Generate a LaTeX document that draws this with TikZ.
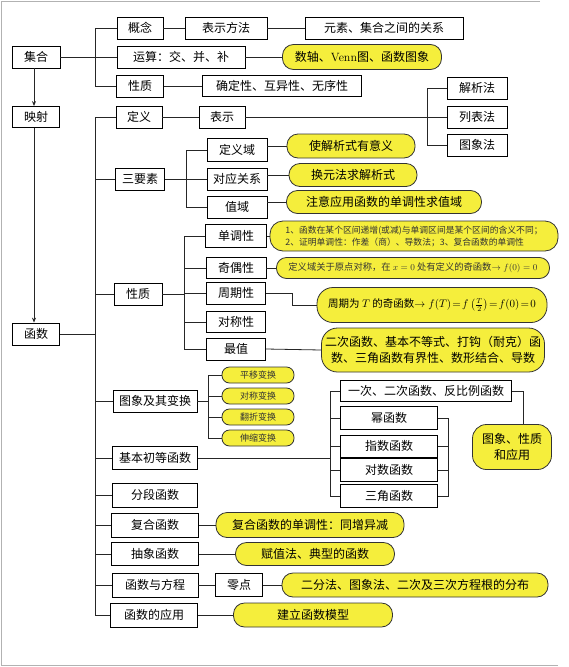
\documentclass[tikz,border=0pt]{standalone}
\usepackage{fontspec}
\newfontfamily\cjk{Noto Sans CJK SC}
\usetikzlibrary{arrows.meta}
\definecolor{yel}{RGB}{245,238,60}
\begin{document}
\begin{tikzpicture}[x=1pt,y=-1pt,
  box/.style={draw=black, fill=white, line width=0.8pt, inner sep=0pt, font=\cjk\fontsize{12}{14}\selectfont},
  oval/.style={draw=black!80, fill=yel, line width=0.8pt, inner sep=0pt, rounded corners=11pt, font=\cjk\fontsize{12}{14}\selectfont},
  small/.style={oval, rounded corners=7.5pt, font=\cjk\fontsize{9}{10}\selectfont, text=black!80},
  link/.style={draw=black!85, line width=0.8pt},
  arr/.style={link, -{Stealth[length=5pt,width=4pt]}}
]
\useasboundingbox (0,0) rectangle (568,667);
\draw[black!30, line width=1pt] (540,1.5) -- (1.5,1.5) -- (1.5,665) -- (558,665);

% ---------- left column
\node[box, minimum width=48pt, minimum height=22pt] (jihe) at (36,57) {集合};
\node[box, minimum width=47pt, minimum height=21pt] (yingshe) at (36,117) {映射};
\node[box, minimum width=47pt, minimum height=22pt] (hanshu) at (36,334) {函数};
\draw[arr] (jihe.south -| 34,0) -- (yingshe.north -| 34,0);
\draw[arr] (yingshe.south -| 34,0) -- (hanshu.north -| 34,0);

% ---------- sets
\node[box, minimum width=46pt, minimum height=22pt] (gainian) at (140,28) {概念};
\node[box, minimum width=82pt, minimum height=22pt] (bsff) at (226,28) {表示方法};
\node[box, minimum width=158pt, minimum height=22pt] (yuansu) at (384,28) {元素、集合之间的关系};
\node[box, minimum width=128pt, minimum height=22pt] (yunsuan) at (181,57) {运算：交、并、补};
\node[oval, minimum width=159pt, minimum height=25pt] (shuzhou) at (362,57) {数轴、{\rmfamily Venn}图、函数图象};
\node[box, minimum width=47pt, minimum height=22pt] (xz1) at (140,86) {性质};
\node[box, minimum width=159pt, minimum height=21pt] (queding) at (282,86) {确定性、互异性、无序性};

\coordinate (bS) at (95,57);
\draw[link] (jihe.east) -- (bS);
\draw[link] (gainian.west) -- (gainian.west -| bS) -- (xz1.west -| bS) -- (xz1.west);
\draw[link] (yunsuan.west) -- (yunsuan.west -| bS);
\draw[link] (gainian.east) -- (bsff.west);
\draw[link] (bsff.east) -- (yuansu.west);
\draw[link] (yunsuan.east) -- (shuzhou.west);
\draw[link] (xz1.east) -- (queding.west);

% ---------- function: definition
\node[box, minimum width=46pt, minimum height=22pt] (dingyi) at (139,117) {定义};
\node[box, minimum width=46pt, minimum height=22pt] (biaoshi) at (222,117) {表示};
\node[box, minimum width=60pt, minimum height=22pt] (jiexifa) at (477,88) {解析法};
\node[box, minimum width=60pt, minimum height=22pt] (liebiao) at (477,117) {列表法};
\node[box, minimum width=60pt, minimum height=22pt] (tuxf) at (477,145) {图象法};
\coordinate (bB) at (427,117);
\draw[link] (dingyi.east) -- (biaoshi.west);
\draw[link] (biaoshi.east) -- (liebiao.west);
\draw[link] (jiexifa.west) -- (jiexifa.west -| bB) -- (tuxf.west -| bB) -- (tuxf.west);

% ---------- three elements
\node[box, minimum width=49pt, minimum height=22pt] (sys) at (140,179) {三要素};
\node[box, minimum width=60pt, minimum height=23pt] (dyy) at (237,150) {定义域};
\node[box, minimum width=60pt, minimum height=22pt] (dygx) at (237,179) {对应关系};
\node[box, minimum width=60pt, minimum height=22pt] (zhiyu) at (237,207) {值域};
\node[oval, minimum width=128pt, minimum height=24pt] (sjx) at (351,146) {使解析式有意义};
\node[oval, minimum width=128pt, minimum height=23pt] (hyf) at (353,175) {换元法求解析式};
\node[oval, minimum width=195pt, minimum height=23pt] (zhuyi) at (384,202) {注意应用函数的单调性求值域};
\coordinate (bT) at (186,179);
\draw[link] (sys.east) -- (bT);
\draw[link] (dyy.west) -- (dyy.west -| bT) -- (zhiyu.west -| bT) -- (zhiyu.west);
\draw[link] (dygx.west) -- (dygx.west -| bT);
\draw[link] (dyy.east |- sjx.west) -- (sjx.west);
\draw[link] (dygx.east |- hyf.west) -- (hyf.west);
\draw[link] (zhiyu.east |- zhuyi.west) -- (zhuyi.west);

% ---------- properties
\node[box, minimum width=48pt, minimum height=22pt] (xz2) at (138,294) {性质};
\node[box, minimum width=61pt, minimum height=23pt] (dd) at (236,236) {单调性};
\node[box, minimum width=60pt, minimum height=21pt] (jo) at (236,268) {奇偶性};
\node[box, minimum width=59pt, minimum height=22pt] (zq) at (236,293) {周期性};
\node[box, minimum width=59pt, minimum height=21pt] (dc) at (236,322) {对称性};
\node[box, minimum width=59pt, minimum height=22pt] (zz) at (236,349) {最值};
\node[oval, rounded corners=13pt, minimum width=288pt, minimum height=30pt, align=left, font=\cjk\fontsize{8.8}{12}\selectfont, text=black!80] (ddn) at (414,236)
  {1、函数在某个区间递增(或减)与单调区间是某个区间的含义不同；\\2、证明单调性：作差（商）、导数法；3、复合函数的单调性};
\node[oval, rounded corners=10pt, minimum width=273pt, minimum height=21pt, font=\cjk\fontsize{9.3}{11}\selectfont, text=black!80] (jon) at (413,268)
  {定义域关于原点对称，在 $x=0$ 处有定义的奇函数$\to f(0)=0$};
\node[oval, rounded corners=16pt, minimum width=230pt, minimum height=35pt, font=\cjk\fontsize{10.5}{12}\selectfont] (zqn) at (432,305)
  {周期为 $T$ 的奇函数$\to f(T)\!=\!f\left(\frac{T}{2}\right)\!=\!f(0)\!=\!0$};
\node[oval, rounded corners=16pt, minimum width=223pt, minimum height=44pt, align=center, font=\cjk\fontsize{12}{16}\selectfont] (zzn) at (433,350)
  {二次函数、基本不等式、打钩（耐克）函\\数、三角函数有界性、数形结合、导数};
\coordinate (bP) at (184,294);
\draw[link] (xz2.east) -- (bP);
\draw[link] (dd.west) -- (dd.west -| bP) -- (zz.west -| bP) -- (zz.west);
\foreach \n in {jo,zq,dc} \draw[link] (\n.west) -- (\n.west -| bP);
\draw[link] (dd.east) -- (dd.east -| ddn.west);
\draw[link] (jo.east) -- (jon.west);
\coordinate (cZ) at (292,293);
\draw[link] (zq.east) -- (cZ) -- (cZ |- zqn.west) -- (zqn.west);
\draw[link] (zz.east) -- (zzn.west);

% ---------- graph transforms
\node[box, minimum width=84pt, minimum height=22pt] (tx) at (155,401) {图象及其变换};
\node[small, minimum width=72pt, minimum height=16pt] (py) at (258,375) {平移变换};
\node[small, minimum width=72pt, minimum height=16pt] (dcb) at (258,396) {对称变换};
\node[small, minimum width=72pt, minimum height=16pt] (fz) at (258,417) {翻折变换};
\node[small, minimum width=72pt, minimum height=16pt] (sx) at (258,438) {伸缩变换};
\coordinate (bX) at (208,401);
\draw[link] (tx.east) -- (bX);
\draw[link] (py.west) -- (py.west -| bX) -- (sx.west -| bX) -- (sx.west);
\foreach \n in {dcb,fz} \draw[link] (\n.west) -- (\n.west -| bX);

% ---------- elementary functions
\node[box, minimum width=85pt, minimum height=23pt] (jb) at (155,458) {基本初等函数};
\node[box, minimum width=171pt, minimum height=21pt] (yici) at (426,391) {一次、二次函数、反比例函数};
\node[box, minimum width=97pt, minimum height=23pt] (mi) at (389,418) {幂函数};
\node[box, minimum width=97pt, minimum height=22pt] (zs) at (389,446) {指数函数};
\node[box, minimum width=97pt, minimum height=23pt] (ds) at (389,470) {对数函数};
\node[box, minimum width=97pt, minimum height=23pt] (sj) at (389,496) {三角函数};
\node[oval, rounded corners=14pt, minimum width=79pt, minimum height=45pt, align=center, font=\cjk\fontsize{12}{16}\selectfont] (txz) at (512,447) {图象、性质\\和应用};
\coordinate (bE) at (330,458);
\draw[link] (jb.east) -- (bE);
\draw[link] (yici.west) -- (yici.west -| bE) -- (sj.west -| bE) -- (sj.west);
\foreach \n in {mi,zs,ds} \draw[link] (\n.west) -- (\n.west -| bE);
\coordinate (bR) at (448,446);
\draw[link] (mi.east) -- (mi.east -| bR) -- (sj.east -| bR) -- (sj.east);
\foreach \n in {zs,ds} \draw[link] (\n.east) -- (\n.east -| bR);
\coordinate (cR) at (523,391);
\draw[link] (yici.east) -- (cR) -- (cR |- txz.north);

% ---------- remaining branches
\node[box, minimum width=85pt, minimum height=24pt] (fd) at (155,495) {分段函数};
\node[box, minimum width=87pt, minimum height=24pt] (fh) at (155,525) {复合函数};
\node[oval, minimum width=188pt, minimum height=25pt] (fhn) at (310,525) {复合函数的单调性：同增异减};
\node[box, minimum width=87pt, minimum height=23pt] (cx) at (155,554) {抽象函数};
\node[oval, minimum width=159pt, minimum height=23pt] (cxn) at (315,554) {赋值法、典型的函数};
\node[box, minimum width=86pt, minimum height=24pt] (fc) at (155,585) {函数与方程};
\node[box, minimum width=47pt, minimum height=23pt] (ld) at (239,585) {零点};
\node[oval, minimum width=266pt, minimum height=24pt] (ldn) at (415,585) {二分法、图象法、二次及三次方程根的分布};
\node[box, minimum width=87pt, minimum height=24pt] (yy) at (154,615) {函数的应用};
\node[oval, minimum width=159pt, minimum height=24pt] (yyn) at (313,615) {建立函数模型};
\draw[link] (fh.east) -- (fhn.west);
\draw[link] (cx.east) -- (cxn.west);
\draw[link] (fc.east) -- (ld.west);
\draw[link] (ld.east) -- (ldn.west);
\draw[link] (yy.east) -- (yyn.west);

% ---------- trunk
\coordinate (bF) at (95,334);
\draw[link] (hanshu.east) -- (bF);
\draw[link] (dingyi.west) -- (dingyi.west -| bF) -- (yy.west -| bF) -- (yy.west);
\foreach \n in {sys,xz2,tx,jb,fd,fh,cx,fc} \draw[link] (\n.west) -- (\n.west -| bF);
\end{tikzpicture}
\end{document}
